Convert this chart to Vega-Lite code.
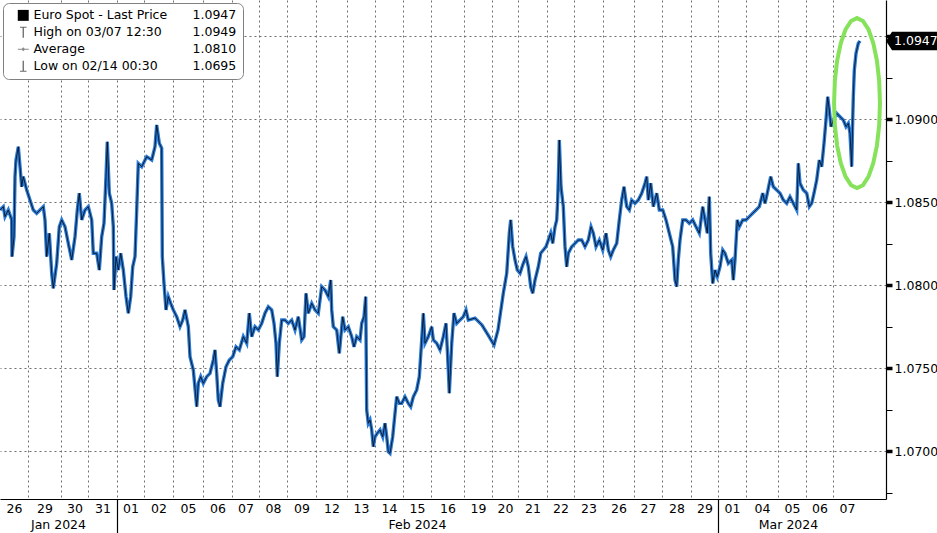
{
  "$schema": "https://vega.github.io/schema/vega-lite/v6.json",
  "width": 886,
  "height": 499,
  "autosize": {"type": "none"},
  "padding": {"left": 0, "top": 0, "right": 51, "bottom": 34},
  "background": "white",
  "config": {"view": {"stroke": null}, "font": "DejaVu Sans"},
  "datasets": {
    "eur": [
      {"t":0.000,"price":1.08452},{"t":0.115,"price":1.08472},{"t":0.174,"price":1.08412},{"t":0.289,"price":1.08452},{"t":0.407,"price":1.08392},{"t":0.417,"price":1.08171},{"t":0.487,"price":1.08291},{"t":0.522,"price":1.08653},{"t":0.557,"price":1.08753},{"t":0.637,"price":1.08833},{"t":0.696,"price":1.08713},{"t":0.755,"price":1.08592},{"t":0.810,"price":1.08653},{"t":0.929,"price":1.08572},{"t":1.043,"price":1.08512},{"t":1.158,"price":1.08452},{"t":1.277,"price":1.08432},{"t":1.391,"price":1.08452},{"t":1.506,"price":1.08472},{"t":1.565,"price":1.08392},{"t":1.624,"price":1.08171},{"t":1.715,"price":1.08312},{"t":1.798,"price":1.08071},{"t":1.854,"price":1.07980},{"t":1.972,"price":1.08131},{"t":2.063,"price":1.08351},{"t":2.146,"price":1.08392},{"t":2.261,"price":1.08351},{"t":2.376,"price":1.08251},{"t":2.494,"price":1.08151},{"t":2.609,"price":1.08291},{"t":2.689,"price":1.08452},{"t":2.758,"price":1.08553},{"t":2.842,"price":1.08392},{"t":2.957,"price":1.08452},{"t":3.071,"price":1.08472},{"t":3.190,"price":1.08392},{"t":3.245,"price":1.08191},{"t":3.364,"price":1.08191},{"t":3.454,"price":1.08090},{"t":3.537,"price":1.08291},{"t":3.617,"price":1.08372},{"t":3.687,"price":1.08653},{"t":3.732,"price":1.08863},{"t":3.802,"price":1.08553},{"t":3.885,"price":1.08492},{"t":3.941,"price":1.08351},{"t":3.965,"price":1.07970},{"t":4.035,"price":1.08171},{"t":4.115,"price":1.08090},{"t":4.198,"price":1.08191},{"t":4.289,"price":1.08090},{"t":4.383,"price":1.07930},{"t":4.463,"price":1.07830},{"t":4.546,"price":1.07930},{"t":4.616,"price":1.08110},{"t":4.696,"price":1.08171},{"t":4.755,"price":1.08452},{"t":4.810,"price":1.08733},{"t":4.929,"price":1.08713},{"t":5.103,"price":1.08773},{"t":5.277,"price":1.08753},{"t":5.391,"price":1.08833},{"t":5.450,"price":1.08964},{"t":5.541,"price":1.08854},{"t":5.624,"price":1.08824},{"t":5.645,"price":1.08171},{"t":5.704,"price":1.08010},{"t":5.774,"price":1.07850},{"t":5.854,"price":1.07930},{"t":5.937,"price":1.07890},{"t":6.028,"price":1.07850},{"t":6.146,"price":1.07809},{"t":6.261,"price":1.07749},{"t":6.355,"price":1.07789},{"t":6.435,"price":1.07850},{"t":6.550,"price":1.07749},{"t":6.609,"price":1.07568},{"t":6.724,"price":1.07488},{"t":6.842,"price":1.07267},{"t":6.898,"price":1.07408},{"t":6.981,"price":1.07448},{"t":7.071,"price":1.07408},{"t":7.190,"price":1.07448},{"t":7.304,"price":1.07468},{"t":7.419,"price":1.07548},{"t":7.478,"price":1.07609},{"t":7.537,"price":1.07468},{"t":7.593,"price":1.07307},{"t":7.652,"price":1.07267},{"t":7.746,"price":1.07408},{"t":7.861,"price":1.07508},{"t":7.976,"price":1.07548},{"t":8.094,"price":1.07568},{"t":8.209,"price":1.07628},{"t":8.324,"price":1.07609},{"t":8.463,"price":1.07689},{"t":8.581,"price":1.07649},{"t":8.671,"price":1.07830},{"t":8.755,"price":1.07689},{"t":8.870,"price":1.07749},{"t":8.985,"price":1.07729},{"t":9.103,"price":1.07769},{"t":9.217,"price":1.07830},{"t":9.332,"price":1.07869},{"t":9.451,"price":1.07850},{"t":9.531,"price":1.07769},{"t":9.600,"price":1.07649},{"t":9.645,"price":1.07448},{"t":9.715,"price":1.07649},{"t":9.798,"price":1.07789},{"t":9.913,"price":1.07789},{"t":10.028,"price":1.07769},{"t":10.146,"price":1.07789},{"t":10.261,"price":1.07729},{"t":10.376,"price":1.07809},{"t":10.494,"price":1.07669},{"t":10.574,"price":1.07689},{"t":10.644,"price":1.07950},{"t":10.724,"price":1.07830},{"t":10.842,"price":1.07890},{"t":10.957,"price":1.07850},{"t":11.071,"price":1.07830},{"t":11.190,"price":1.07990},{"t":11.304,"price":1.07970},{"t":11.419,"price":1.07930},{"t":11.503,"price":1.08030},{"t":11.538,"price":1.07850},{"t":11.593,"price":1.07749},{"t":11.712,"price":1.07729},{"t":11.802,"price":1.07589},{"t":11.920,"price":1.07809},{"t":12.000,"price":1.07729},{"t":12.115,"price":1.07749},{"t":12.233,"price":1.07689},{"t":12.313,"price":1.07628},{"t":12.407,"price":1.07689},{"t":12.522,"price":1.07669},{"t":12.581,"price":1.07769},{"t":12.661,"price":1.07809},{"t":12.720,"price":1.07930},{"t":12.755,"price":1.07247},{"t":12.810,"price":1.07167},{"t":12.870,"price":1.07187},{"t":12.929,"price":1.07127},{"t":12.984,"price":1.07026},{"t":13.044,"price":1.07086},{"t":13.124,"price":1.07107},{"t":13.218,"price":1.07127},{"t":13.311,"price":1.07086},{"t":13.391,"price":1.07167},{"t":13.451,"price":1.07086},{"t":13.506,"price":1.06996},{"t":13.565,"price":1.06986},{"t":13.659,"price":1.07086},{"t":13.739,"price":1.07227},{"t":13.798,"price":1.07327},{"t":13.889,"price":1.07287},{"t":13.972,"price":1.07287},{"t":14.087,"price":1.07327},{"t":14.202,"price":1.07287},{"t":14.285,"price":1.07267},{"t":14.376,"price":1.07327},{"t":14.494,"price":1.07368},{"t":14.585,"price":1.07448},{"t":14.668,"price":1.07669},{"t":14.724,"price":1.07830},{"t":14.783,"price":1.07649},{"t":14.898,"price":1.07689},{"t":15.016,"price":1.07749},{"t":15.072,"price":1.07669},{"t":15.190,"price":1.07649},{"t":15.305,"price":1.07609},{"t":15.419,"price":1.07689},{"t":15.513,"price":1.07769},{"t":15.593,"price":1.07488},{"t":15.628,"price":1.07348},{"t":15.712,"price":1.07649},{"t":15.791,"price":1.07830},{"t":15.885,"price":1.07769},{"t":16.000,"price":1.07789},{"t":16.115,"price":1.07809},{"t":16.209,"price":1.07850},{"t":16.289,"price":1.07789},{"t":16.522,"price":1.07801},{"t":16.765,"price":1.07759},{"t":16.974,"price":1.07699},{"t":17.183,"price":1.07639},{"t":17.322,"price":1.07729},{"t":17.506,"price":1.07950},{"t":17.625,"price":1.08071},{"t":17.715,"price":1.08312},{"t":17.764,"price":1.08392},{"t":17.833,"price":1.08231},{"t":17.913,"price":1.08151},{"t":17.993,"price":1.08090},{"t":18.087,"price":1.08071},{"t":18.202,"price":1.08131},{"t":18.296,"price":1.08171},{"t":18.376,"price":1.08110},{"t":18.459,"price":1.07990},{"t":18.529,"price":1.07950},{"t":18.609,"price":1.08030},{"t":18.724,"price":1.08110},{"t":18.807,"price":1.08191},{"t":18.898,"price":1.08211},{"t":18.992,"price":1.08231},{"t":19.072,"price":1.08271},{"t":19.155,"price":1.08312},{"t":19.225,"price":1.08251},{"t":19.305,"price":1.08351},{"t":19.364,"price":1.08392},{"t":19.398,"price":1.08512},{"t":19.433,"price":1.08713},{"t":19.454,"price":1.08874},{"t":19.513,"price":1.08592},{"t":19.593,"price":1.08472},{"t":19.652,"price":1.08231},{"t":19.711,"price":1.08110},{"t":19.767,"price":1.08191},{"t":19.885,"price":1.08231},{"t":20.000,"price":1.08251},{"t":20.115,"price":1.08271},{"t":20.233,"price":1.08271},{"t":20.348,"price":1.08231},{"t":20.463,"price":1.08271},{"t":20.557,"price":1.08351},{"t":20.637,"price":1.08312},{"t":20.731,"price":1.08231},{"t":20.846,"price":1.08271},{"t":20.964,"price":1.08211},{"t":21.079,"price":1.08312},{"t":21.159,"price":1.08211},{"t":21.242,"price":1.08171},{"t":21.333,"price":1.08211},{"t":21.451,"price":1.08251},{"t":21.541,"price":1.08392},{"t":21.624,"price":1.08512},{"t":21.704,"price":1.08592},{"t":21.798,"price":1.08472},{"t":21.889,"price":1.08452},{"t":21.972,"price":1.08512},{"t":22.087,"price":1.08492},{"t":22.202,"price":1.08512},{"t":22.320,"price":1.08553},{"t":22.435,"price":1.08613},{"t":22.494,"price":1.08653},{"t":22.550,"price":1.08512},{"t":22.633,"price":1.08613},{"t":22.724,"price":1.08472},{"t":22.842,"price":1.08553},{"t":22.933,"price":1.08452},{"t":23.051,"price":1.08452},{"t":23.165,"price":1.08392},{"t":23.280,"price":1.08312},{"t":23.398,"price":1.08231},{"t":23.478,"price":1.08030},{"t":23.537,"price":1.07990},{"t":23.593,"price":1.08151},{"t":23.652,"price":1.08271},{"t":23.746,"price":1.08392},{"t":23.861,"price":1.08392},{"t":23.976,"price":1.08372},{"t":24.094,"price":1.08392},{"t":24.209,"price":1.08351},{"t":24.324,"price":1.08312},{"t":24.442,"price":1.08472},{"t":24.522,"price":1.08392},{"t":24.602,"price":1.08312},{"t":24.672,"price":1.08532},{"t":24.720,"price":1.08191},{"t":24.790,"price":1.08010},{"t":24.870,"price":1.08090},{"t":24.950,"price":1.08050},{"t":25.044,"price":1.08110},{"t":25.138,"price":1.08211},{"t":25.218,"price":1.08191},{"t":25.332,"price":1.08131},{"t":25.451,"price":1.08151},{"t":25.506,"price":1.08030},{"t":25.565,"price":1.08151},{"t":25.645,"price":1.08392},{"t":25.715,"price":1.08351},{"t":25.833,"price":1.08392},{"t":25.948,"price":1.08392},{"t":26.063,"price":1.08412},{"t":26.181,"price":1.08432},{"t":26.296,"price":1.08452},{"t":26.411,"price":1.08472},{"t":26.529,"price":1.08553},{"t":26.609,"price":1.08492},{"t":26.689,"price":1.08553},{"t":26.807,"price":1.08653},{"t":26.898,"price":1.08592},{"t":27.016,"price":1.08572},{"t":27.131,"price":1.08553},{"t":27.246,"price":1.08512},{"t":27.364,"price":1.08492},{"t":27.478,"price":1.08532},{"t":27.593,"price":1.08492},{"t":27.711,"price":1.08452},{"t":27.767,"price":1.08733},{"t":27.826,"price":1.08613},{"t":27.941,"price":1.08572},{"t":28.059,"price":1.08553},{"t":28.150,"price":1.08472},{"t":28.233,"price":1.08492},{"t":28.313,"price":1.08553},{"t":28.407,"price":1.08633},{"t":28.498,"price":1.08753},{"t":28.581,"price":1.08713},{"t":28.661,"price":1.08854},{"t":28.730,"price":1.08994},{"t":28.789,"price":1.09134},{"t":28.845,"price":1.09054},{"t":28.904,"price":1.08954},{"t":28.984,"price":1.08994},{"t":29.103,"price":1.09034},{"t":29.217,"price":1.09014},{"t":29.332,"price":1.08994},{"t":29.426,"price":1.08954},{"t":29.506,"price":1.08974},{"t":29.565,"price":1.08914},{"t":29.624,"price":1.08713},{"t":29.659,"price":1.08994},{"t":29.680,"price":1.09134},{"t":29.715,"price":1.09295},{"t":29.774,"price":1.09396},{"t":29.854,"price":1.09456},{"t":29.913,"price":1.0947}
    ],
    "highlight": [{"t": 29.809, "price": 1.09096}],
    "last": [{"price": 1.0947, "label": "1.0947"}]
  },
  "layer": [
    {
      "data": {"name": "eur"},
      "mark": {"type": "line", "color": "#2a7ad6", "strokeWidth": 3.4, "clip": true},
      "encoding": {
        "x": {"field": "t", "type": "quantitative",
          "scale": {"domain": [0, 30.817], "nice": false, "zero": false},
          "axis": {"orient": "bottom", "title": null,
            "values": [0.974, 2.122, 3.061, 4.070, 5.009, 6.017, 7.061, 8.070, 9.009, 9.983, 10.991, 12.070, 13.043, 14.017, 14.991, 16.139, 17.113, 18.017, 19.026, 19.965, 20.974, 22.052, 23.026, 24.035, 24.974, 25.948, 27.061, 28.035, 28.974],
            "grid": true, "gridDash": [2, 3], "gridColor": "#6f6f6f", "gridWidth": 1,
            "ticks": false, "labels": false, "domain": true, "domainColor": "#000000", "domainWidth": 1.2}},
        "y": {"field": "price", "type": "quantitative",
          "scale": {"domain": [1.06711, 1.09717], "nice": false, "zero": false},
          "axis": {"orient": "right", "title": null,
            "values": [1.0675, 1.07, 1.0725, 1.075, 1.0775, 1.08, 1.0825, 1.085, 1.0875, 1.09, 1.0925, 1.095],
            "labelExpr": "abs(datum.value*200 - round(datum.value*200)) < 0.01 && datum.value < 1.0949 ? format(datum.value, '.4f') : ''",
            "grid": true, "gridDash": [2, 3], "gridColor": "#6f6f6f",
            "gridOpacity": {"condition": {"test": "abs(datum.value*200 - round(datum.value*200)) < 0.01", "value": 1}, "value": 0},
            "tickSize": 6, "tickColor": "#000000",
            "tickWidth": {"condition": {"test": "abs(datum.value*200 - round(datum.value*200)) < 0.01", "value": 3.5}, "value": 1},
            "domainColor": "#000000", "domainWidth": 1.2,
            "labelPadding": 2, "labelFontSize": 12.5, "labelColor": "#000000", "labelFont": "DejaVu Sans"}}
      }
    },
    {
      "data": {"name": "eur"},
      "mark": {"type": "line", "color": "#000000", "strokeWidth": 0.9, "opacity": 0.85, "clip": true},
      "encoding": {
        "x": {"field": "t", "type": "quantitative",
          "scale": {"domain": [0, 30.817], "nice": false, "zero": false},
          "axis": {"orient": "bottom", "title": null,
            "values": [0.487, 1.548, 2.591, 3.565, 4.539, 5.513, 6.539, 7.565, 8.539, 9.496, 10.487, 11.530, 12.557, 13.530, 14.504, 15.565, 16.626, 17.565, 18.522, 19.496, 20.470, 21.513, 22.539, 23.530, 24.504, 25.461, 26.504, 27.548, 28.504, 29.461],
            "labelExpr": "['26','29','30','31','01','02','05','06','07','08','09','12','13','14','15','16','19','20','21','22','23','26','27','28','29','01','04','05','06','07'][floor(datum.value)]",
            "ticks": false, "grid": false, "domain": false, "labelPadding": 3,
            "labelFontSize": 12.5, "labelColor": "#000000", "labelFont": "DejaVu Sans",
            "labelOverlap": false, "labelFlush": false, "labelBound": false}},
        "y": {"field": "price", "type": "quantitative",
          "scale": {"domain": [1.06711, 1.09717], "nice": false, "zero": false}}
      }
    },
    {
      "data": {"name": "highlight"},
      "mark": {"type": "point", "filled": false, "opacity": 1, "color": "#86e25a", "strokeWidth": 4,
        "shape": "M0,-1 L0.07,-0.966 L0.135,-0.866 L0.191,-0.707 L0.234,-0.5 L0.261,-0.259 L0.27,0 L0.261,0.259 L0.234,0.5 L0.191,0.707 L0.135,0.866 L0.07,0.966 L0,1 L-0.07,0.966 L-0.135,0.866 L-0.191,0.707 L-0.234,0.5 L-0.261,0.259 L-0.27,0 L-0.261,-0.259 L-0.234,-0.5 L-0.191,-0.707 L-0.135,-0.866 L-0.07,-0.966 Z",
        "size": 28900},
      "encoding": {
        "x": {"field": "t", "type": "quantitative",
          "scale": {"domain": [0, 30.817], "nice": false, "zero": false},
          "axis": {"orient": "bottom", "title": null,
            "values": [2.017, 14.504, 27.409],
            "labelExpr": "datum.value < 4 ? 'Jan 2024' : datum.value < 25 ? 'Feb 2024' : 'Mar 2024'",
            "ticks": false, "grid": false, "domain": false, "labelPadding": 19,
            "labelFontSize": 12.5, "labelColor": "#000000", "labelFont": "DejaVu Sans",
            "labelOverlap": false, "labelFlush": false, "labelBound": false}},
        "y": {"field": "price", "type": "quantitative",
          "scale": {"domain": [1.06711, 1.09717], "nice": false, "zero": false}}
      }
    },
    {
      "data": {"values": []},
      "mark": {"type": "point", "filled": true, "opacity": 1},
      "encoding": {
        "x": {"field": "t", "type": "quantitative",
          "scale": {"domain": [0, 30.817], "nice": false, "zero": false},
          "axis": {"orient": "bottom", "title": null,
            "values": [4.070, 24.974],
            "ticks": true, "tickSize": 34, "tickColor": "#000000", "tickWidth": 1.2,
            "labels": false, "grid": false, "domain": false}},
        "y": {"field": "price", "type": "quantitative",
          "scale": {"domain": [1.06711, 1.09717], "nice": false, "zero": false}},
        "color": {"field": "item", "type": "nominal",
          "scale": {
            "domain": ["Euro Spot - Last Price", "High on 03/07 12:30", "Average", "Low on 02/14 00:30", "1.0947", "1.0949", "1.0810", "1.0695"],
            "range": ["#000000", "#6a6a6a", "#8a8a8a", "#6a6a6a", "transparent", "transparent", "transparent", "transparent"]},
          "legend": {"title": null, "orient": "top-left", "offset": 3, "columns": 2,
            "fillColor": "white", "strokeColor": "#808080", "cornerRadius": 6, "padding": 6,
            "rowPadding": 4, "columnPadding": 0, "symbolOffset": 8, "symbolSize": 120,
            "labelFont": "DejaVu Sans", "labelFontSize": 12.5, "labelColor": "#000000",
            "labelOffset": 4, "labelLimit": 300, "symbolOpacity": 1, "symbolStrokeWidth": 0}},
        "shape": {"field": "item", "type": "nominal",
          "scale": {
            "domain": ["Euro Spot - Last Price", "High on 03/07 12:30", "Average", "Low on 02/14 00:30", "1.0947", "1.0949", "1.0810", "1.0695"],
            "range": ["square", "M-0.6,-1 L0.6,-1 L0.6,-0.8 L0.12,-0.8 L0.12,1 L-0.12,1 L-0.12,-0.8 L-0.6,-0.8 Z", "M-1,-0.1 L1,-0.1 L1,0.1 L-1,0.1 Z M-0.35,0 L0,-0.35 L0.35,0 L0,0.35 Z", "M-0.12,-1 L0.12,-1 L0.12,0.8 L0.6,0.8 L0.6,1 L-0.6,1 L-0.6,0.8 L-0.12,0.8 Z", "circle", "circle", "circle", "circle"]},
          "legend": {"title": null, "orient": "top-left", "offset": 3, "columns": 2,
            "fillColor": "white", "strokeColor": "#808080", "cornerRadius": 6, "padding": 6,
            "rowPadding": 4, "columnPadding": 0, "symbolOffset": 8, "symbolSize": 120,
            "labelFont": "DejaVu Sans", "labelFontSize": 12.5, "labelColor": "#000000",
            "labelOffset": 4, "labelLimit": 300, "symbolOpacity": 1, "symbolStrokeWidth": 0}}
      }
    },
    {
      "data": {"name": "last"},
      "mark": {"type": "point", "filled": true, "opacity": 1, "color": "#000000",
        "shape": "M0,0 L0.118,-0.18 L1,-0.18 L1,0.18 L0.118,0.18 Z", "size": 10404},
      "encoding": {
        "x": {"value": "width"},
        "y": {"field": "price", "type": "quantitative",
          "scale": {"domain": [1.06711, 1.09717], "nice": false, "zero": false}}
      }
    },
    {
      "data": {"name": "last"},
      "mark": {"type": "text", "align": "left", "baseline": "middle", "dx": 8, "color": "white",
        "font": "DejaVu Sans", "fontSize": 12.5},
      "encoding": {
        "x": {"value": "width"},
        "y": {"field": "price", "type": "quantitative",
          "scale": {"domain": [1.06711, 1.09717], "nice": false, "zero": false}},
        "text": {"field": "label", "type": "nominal"}
      }
    }
  ],
  "resolve": {"axis": {"x": "independent"}}
}
